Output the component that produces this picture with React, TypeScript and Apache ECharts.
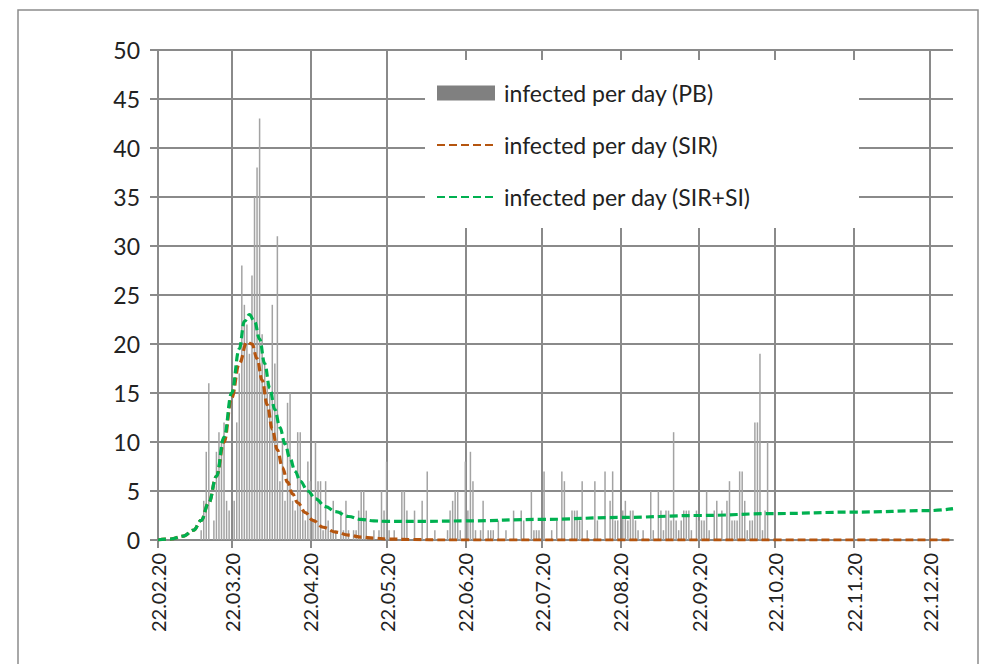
import React, { useEffect, useRef } from "react";
import * as echarts from "echarts";

// Day 0 = 22.02.2020, last day = 31.12.2020
const START = { y: 2020, m: 1, d: 22 };
const DAY_COUNT = 314;

const categories: string[] = Array.from({ length: DAY_COUNT }, (_, i) => {
  const dt = new Date(Date.UTC(START.y, START.m, START.d + i));
  const dd = String(dt.getUTCDate()).padStart(2, "0");
  const mm = String(dt.getUTCMonth() + 1).padStart(2, "0");
  const yy = String(dt.getUTCFullYear() % 100).padStart(2, "0");
  return `${dd}.${mm}.${yy}`;
});

// infected per day (PB), one value per day from 22.02.20
const infectedPB: number[] = [
  0, 0, 0, 0, 0, 0, 0, 0, 0, 0,
  0, 0, 0, 0, 0, 0, 0, 1, 4, 9,
  16, 0, 2, 9, 11, 10, 12, 4, 3, 0,
  4, 12, 17, 28, 24, 22, 19, 27, 35, 38,
  43, 21, 18, 16, 15, 24, 18, 31, 6, 10,
  4, 14, 15, 4, 3, 11, 11, 3, 2, 8,
  6, 2, 10, 6, 6, 1, 6, 2, 1, 4,
  1, 0, 3, 1, 4, 1, 0, 1, 1, 3,
  5, 5, 3, 0, 0, 1, 0, 1, 5, 3,
  8, 1, 0, 1, 0, 0, 5, 5, 3, 0,
  0, 3, 0, 0, 4, 0, 7, 0, 0, 1,
  0, 0, 0, 0, 1, 3, 4, 5, 5, 1,
  0, 8, 3, 9, 6, 1, 0, 1, 4, 0,
  1, 1, 1, 0, 2, 0, 0, 1, 0, 0,
  3, 0, 0, 3, 2, 0, 0, 5, 1, 1,
  1, 0, 7, 0, 0, 1, 0, 2, 0, 7,
  6, 0, 0, 3, 3, 3, 2, 6, 0, 1,
  0, 0, 6, 2, 0, 0, 7, 0, 4, 7,
  2, 2, 0, 3, 4, 2, 3, 3, 2, 1,
  0, 1, 0, 0, 5, 1, 0, 5, 3, 1,
  3, 3, 2, 11, 2, 1, 2, 3, 3, 3,
  1, 0, 3, 2, 2, 2, 5, 1, 0, 3,
  4, 0, 3, 0, 4, 6, 2, 2, 2, 7,
  7, 4, 1, 2, 2, 12, 12, 19, 1, 3,
  10,
];

// model curves: [day index, value]
const sirDays = [0, 5, 10, 14, 17, 20, 23, 26, 29, 32, 35, 37, 39, 41, 43, 45, 47, 49, 51, 53, 55, 58, 61, 65, 70, 75, 80, 85, 90, 100, 110, 313];
const sirValues = [0, 0.1, 0.4, 1.0, 2.0, 3.8, 6.5, 10, 14.5, 18, 20.2, 20, 18.5, 16.3, 13.8, 11.3, 9.2, 7.4, 5.9, 4.7, 3.8, 2.8, 2.0, 1.3, 0.8, 0.5, 0.3, 0.2, 0.1, 0.05, 0, 0];

const sirSiDays = [0, 5, 10, 14, 17, 20, 23, 26, 29, 32, 34, 36, 38, 40, 42, 44, 46, 48, 50, 52, 54, 56, 59, 62, 66, 70, 75, 80, 85, 90, 105, 121, 151, 182, 213, 243, 274, 304, 313];
const sirSiValues = [0, 0.1, 0.4, 1.0, 2.0, 3.8, 6.5, 10.5, 15, 19.5, 22.3, 23, 22.3, 20.5, 18, 15.5, 13.3, 11.5, 9.8, 8.3, 7, 6, 5, 4.2, 3.4, 2.9, 2.4, 2.1, 1.95, 1.9, 1.9, 1.95, 2.1, 2.3, 2.5, 2.7, 2.85, 3.0, 3.2];

const yTicks = { min: 0, max: 50, interval: 5 };

const FONT = "Lato";
const GRID_COLOR = "#8a8a8a";
const TEXT_COLOR = "#222222";

const isMonthMark = (_i: number, v: string) => v.startsWith("22.");
const hiddenSymbol = { color: "rgba(0,0,0,0)", borderColor: "rgba(0,0,0,0)", borderWidth: 0 };

export default function App() {
  const ref = useRef<HTMLDivElement>(null);

  useEffect(() => {
    if (!ref.current) return;
    const chart = echarts.init(ref.current, null, { renderer: "svg" });
    const sirData = sirDays.map((d, i) => [d, sirValues[i]]);
    const sirSiData = sirSiDays.map((d, i) => [d, sirSiValues[i]]);

    chart.setOption({
      animation: false,
      backgroundColor: "#ffffff",
      textStyle: { fontFamily: FONT },
      graphic: [
        {
          type: "rect",
          shape: { x: 18, y: 10, width: 960, height: 700 },
          style: { fill: "none", stroke: "#8c8c8c", lineWidth: 1.5 },
          silent: true,
        },
      ],
      grid: { left: 158, right: 29, top: 50, bottom: 124, containLabel: false },
      legend: {
        orient: "vertical",
        left: 425,
        top: 60,
        backgroundColor: "#ffffff",
        padding: [20, 108, 18, 11],
        itemGap: 26,
        itemWidth: 58,
        itemHeight: 15,
        textStyle: {
          fontFamily: FONT,
          fontSize: 23,
          color: TEXT_COLOR,
          lineHeight: 26,
          padding: [0, 0, 0, 4],
        },
        data: [
          { name: "infected per day (PB)", icon: "rect", itemStyle: { color: "#808080" } },
          { name: "infected per day (SIR)", itemStyle: hiddenSymbol },
          { name: "infected per day (SIR+SI)", itemStyle: hiddenSymbol },
        ],
      },
      xAxis: {
        type: "category",
        data: categories,
        boundaryGap: false,
        axisLine: { show: true, lineStyle: { color: GRID_COLOR, width: 2 } },
        axisTick: {
          show: true,
          interval: isMonthMark,
          length: 8,
          lineStyle: { color: GRID_COLOR, width: 2 },
        },
        axisLabel: {
          interval: isMonthMark,
          rotate: 90,
          margin: 13,
          fontFamily: FONT,
          fontSize: 20,
          color: TEXT_COLOR,
        },
        splitLine: {
          show: true,
          interval: isMonthMark,
          lineStyle: { color: GRID_COLOR, width: 2 },
        },
      },
      yAxis: {
        type: "value",
        min: yTicks.min,
        max: yTicks.max,
        interval: yTicks.interval,
        axisLine: { show: false },
        axisTick: { show: true, length: 8, lineStyle: { color: GRID_COLOR, width: 2 } },
        axisLabel: { margin: 18, fontFamily: FONT, fontSize: 23, color: TEXT_COLOR },
        splitLine: { show: true, lineStyle: { color: GRID_COLOR, width: 2 } },
      },
      series: [
        {
          name: "infected per day (PB)",
          type: "bar",
          data: infectedPB,
          barWidth: 1.5,
          itemStyle: { color: "#a3a3a3" },
          z: 2,
        },
        {
          name: "infected per day (SIR)",
          type: "line",
          data: sirData,
          smooth: 0.4,
          smoothMonotone: "x",
          symbol: "none",
          lineStyle: { color: "#B5550F", width: 3.2, type: [8, 4] },
          itemStyle: { color: "#B5550F" },
          z: 3,
        },
        {
          name: "infected per day (SIR+SI)",
          type: "line",
          data: sirSiData,
          smooth: 0.4,
          smoothMonotone: "x",
          symbol: "none",
          lineStyle: { color: "#00B050", width: 3.2, type: [8, 4] },
          itemStyle: { color: "#00B050" },
          z: 4,
        },
      ],
    });
    return () => chart.dispose();
  }, []);

  return (
    <div
      ref={ref}
      style={{ position: "fixed", left: 0, top: 0, width: 982, height: 664, background: "#fff" }}
    />
  );
}
